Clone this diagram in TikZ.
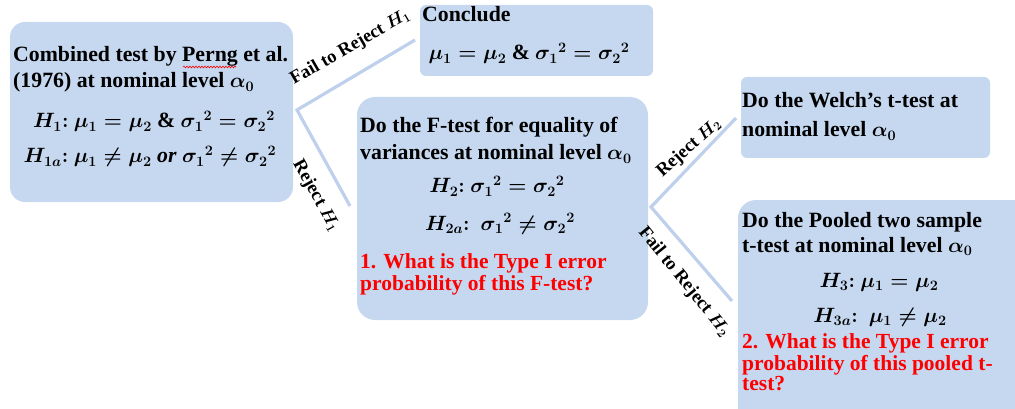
\documentclass[tikz,border=0pt]{standalone}
\usepackage{fontspec}
\setmainfont{Liberation Serif}[BoldFont={Liberation Serif Bold}, ItalicFont={Liberation Serif Italic}, BoldItalicFont={Liberation Serif Bold Italic}]
\usetikzlibrary{decorations.pathmorphing}
\definecolor{boxfill}{RGB}{198,216,240}
\definecolor{linkcol}{RGB}{190,208,236}
\definecolor{qred}{RGB}{255,0,0}
\begin{document}
\begin{tikzpicture}[x=1pt,y=-1pt,
  box/.style={draw=none, fill=boxfill, rectangle, inner sep=0pt},
  txt/.style={anchor=base west, inner sep=0pt, font=\fontsize{21.8}{26}\selectfont\bfseries\boldmath},
  eq/.style={anchor=base, inner sep=0pt, font=\fontsize{21.8}{26}\selectfont\bfseries\boldmath},
  qtxt/.style={anchor=base west, inner sep=0pt, text=qred, font=\fontsize{21.5}{26}\selectfont\bfseries\boldmath},
  lbl/.style={inner sep=0pt, font=\fontsize{18.5}{20}\selectfont\bfseries\boldmath},
  link/.style={draw=linkcol, line width=3.2pt}
]
\useasboundingbox (0,0) rectangle (1015,409);

% boxes
\node[box, rounded corners=15, minimum width=283, minimum height=180] (A) at (151.5,112) {};
\node[box, rounded corners=6, minimum width=233, minimum height=71] (B) at (536.5,40.5) {};
\node[box, rounded corners=18, minimum width=291, minimum height=223] (C) at (502.5,208.5) {};
\node[box, rounded corners=6, minimum width=249, minimum height=81] (D) at (865.5,117.5) {};
\begin{scope}
  \clip (0,0) rectangle (1015,409);
  \node[box, rounded corners=18, minimum width=300, minimum height=230] (E) at (888,315) {};
\end{scope}

% connector end points
\coordinate (pA) at (297,110);
\coordinate (pB) at (415,40);
\coordinate (pC) at (350,206);
\coordinate (qC) at (651,207);
\coordinate (pD) at (736,118);
\coordinate (pE) at (732,301);
\draw[link] (pB) -- (pA) -- (pC);
\draw[link] (pD) -- (qC) -- (pE);

% connector labels
\node[lbl, rotate=30, anchor=base west] (l1) at (294,85) {Fail to Reject $H_1$};
\node[lbl, rotate=-61] (l2) at (316,196) {Reject $H_1$};
\node[lbl, rotate=42] (l3) at (689,148) {Reject $H_2$};
\node[lbl, rotate=-51] (l4) at (684,282) {Fail to Reject $H_2$};

% box A text
\node[txt] (a1) at (13,62) {Combined test by Perng et al.};
\draw[qred, line width=0.6pt, decorate, decoration={snake, amplitude=0.9pt, segment length=3pt}] (183,67) -- (236,67);
\node[txt] (a2) at (13,88) {(1976) at nominal level $\alpha_0$};
\node[eq] (a3) at (154,128) {$H_1{:}\ \mu_1=\mu_2\mathbin{\&}{\sigma_1}^2={\sigma_2}^2$};
\node[eq] (a4) at (150,163) {$H_{1a}{:}\ \mu_1\neq\mu_2\ \mathit{or}\ {\sigma_1}^2\neq{\sigma_2}^2$};

% box B text
\node[txt] (b1) at (422,22) {Conclude};
\node[eq] (b2) at (529,60) {$\mu_1=\mu_2\mathbin{\&}{\sigma_1}^2={\sigma_2}^2$};

% box C text
\node[txt] (c1) at (360,133) {Do the F-test for equality of};
\node[txt] (c2) at (360,160) {variances at nominal level $\alpha_0$};
\node[eq] (c3) at (497,193) {$H_2{:}\ {\sigma_1}^2={\sigma_2}^2$};
\node[eq] (c4) at (500,230) {$H_{2a}{:}\ \ {\sigma_1}^2\neq{\sigma_2}^2$};
\node[qtxt] (c5) at (360,268) {1. What is the Type I error};
\node[qtxt] (c6) at (360,290) {probability of this F-test?};

% box D text
\node[txt] (d1) at (742,108) {Do the Welch’s t-test at};
\node[txt] (d2) at (742,137) {nominal level $\alpha_0$};

% box E text
\node[txt] (e1) at (742,227) {Do the Pooled two sample};
\node[txt] (e2) at (742,252) {t-test at nominal level $\alpha_0$};
\node[eq] (e3) at (879,287) {$H_3{:}\ \mu_1=\mu_2$};
\node[eq] (e4) at (880,322) {$H_{3a}{:}\ \ \mu_1\neq\mu_2$};
\node[qtxt] (e5) at (742,348) {2. What is the Type I error};
\node[qtxt] (e6) at (742,370) {probability of this pooled t-};
\node[qtxt] (e7) at (742,390) {test?};
\end{tikzpicture}
\end{document}
